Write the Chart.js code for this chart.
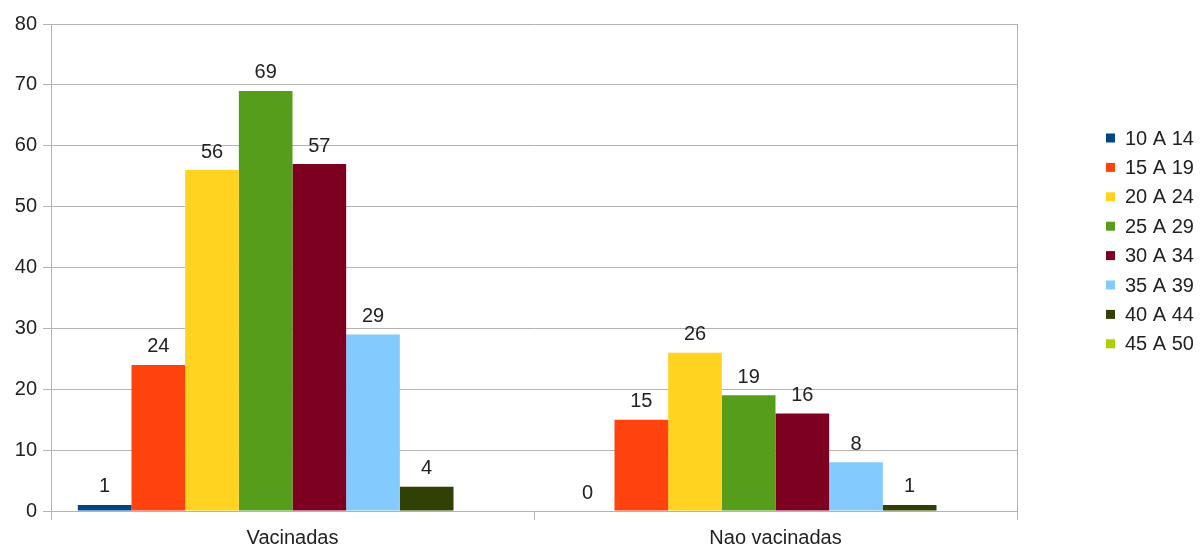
<!DOCTYPE html>
<html>
<head>
<meta charset="utf-8">
<script src="https://cdn.jsdelivr.net/npm/chart.js@4/dist/chart.umd.min.js"></script>
<style>
  html, body { margin: 0; padding: 0; background: #fff; }
  #wrap { width: 1202px; height: 549px; }
</style>
</head>
<body>
<div id="wrap"><canvas id="myChart"></canvas></div>
<script>
// data
const categorias = ["Vacinadas", "Nao vacinadas"];
const faixas = ["10 A 14", "15 A 19", "20 A 24", "25 A 29", "30 A 34", "35 A 39", "40 A 44", "45 A 50"];
const f10a14 = [1, 0];
const f15a19 = [24, 15];
const f20a24 = [56, 26];
const f25a29 = [69, 19];
const f30a34 = [57, 16];
const f35a39 = [29, 8];
const f40a44 = [4, 1];
const f45a50 = [null, null];
const cores = ['#004586', '#ff420e', '#ffd320', '#579d1c', '#7e0021', '#83caff', '#314004', '#aecf00'];
const yTicks = [0, 10, 20, 30, 40, 50, 60, 70, 80];

const valores = [f10a14, f15a19, f20a24, f25a29, f30a34, f35a39, f40a44, f45a50];
const fonte = '20px "Liberation Sans", Arial, sans-serif';
const grade = '#b3b3b3';

// numbers above the bars
const rotulos = {
  id: 'rotulos',
  afterDatasetsDraw(chart) {
    const ctx = chart.ctx;
    ctx.save();
    ctx.font = fonte;
    ctx.fillStyle = '#222';
    ctx.textAlign = 'center';
    ctx.textBaseline = 'middle';
    chart.data.datasets.forEach((ds, i) => {
      const meta = chart.getDatasetMeta(i);
      meta.data.forEach((bar, j) => {
        const v = ds.data[j];
        if (v === null || v === undefined) return;
        ctx.fillText(String(v), bar.x, bar.y - 18);
      });
    });
    ctx.restore();
  }
};

// legend on the right, like the original
const legenda = {
  id: 'legenda',
  afterDraw(chart) {
    const ctx = chart.ctx;
    ctx.save();
    ctx.font = fonte;
    ctx.textBaseline = 'middle';
    ctx.textAlign = 'left';
    chart.data.datasets.forEach((ds, i) => {
      const y = 138 + i * 29.4;
      ctx.fillStyle = ds.backgroundColor;
      ctx.fillRect(1106, y - 4.5, 9, 9);
      ctx.fillStyle = '#222';
      ctx.fillText(ds.label, 1125, y + 1);
    });
    ctx.restore();
  }
};

const data = {
  labels: categorias,
  datasets: faixas.map((nome, i) => ({
    label: nome,
    data: valores[i],
    backgroundColor: cores[i],
    borderWidth: 0,
    categoryPercentage: 8 / 9,
    barPercentage: 1
  }))
};

const config = {
  type: 'bar',
  data: data,
  options: {
    responsive: true,
    maintainAspectRatio: false,
    animation: false,
    layout: { padding: { top: 24, right: 185, left: 0, bottom: 0 } },
    plugins: {
      legend: { display: false },
      tooltip: { enabled: false }
    },
    scales: {
      x: {
        grid: { offset: true, drawOnChartArea: false, color: grade, tickLength: 9 },
        border: { color: grade },
        ticks: { font: { family: '"Liberation Sans", Arial, sans-serif', size: 20 }, color: '#222', padding: 6 },
        afterFit: s => { s.height = 38; }
      },
      y: {
        min: 0,
        max: 80,
        afterBuildTicks: s => { s.ticks = yTicks.map(v => ({ value: v })); },
        grid: { color: grade, tickLength: 8 },
        border: { color: grade },
        ticks: { font: { family: '"Liberation Sans", Arial, sans-serif', size: 20 }, color: '#222', padding: 6 },
        afterFit: s => { s.width = 51; }
      },
      borda: {
        position: 'right',
        min: 0,
        max: 80,
        ticks: { display: false },
        grid: { drawOnChartArea: false, drawTicks: false },
        border: { color: grade },
        afterFit: s => { s.width = 0; }
      }
    }
  },
  plugins: [rotulos, legenda]
};

new Chart(document.getElementById('myChart'), config);
</script>
</body>
</html>
